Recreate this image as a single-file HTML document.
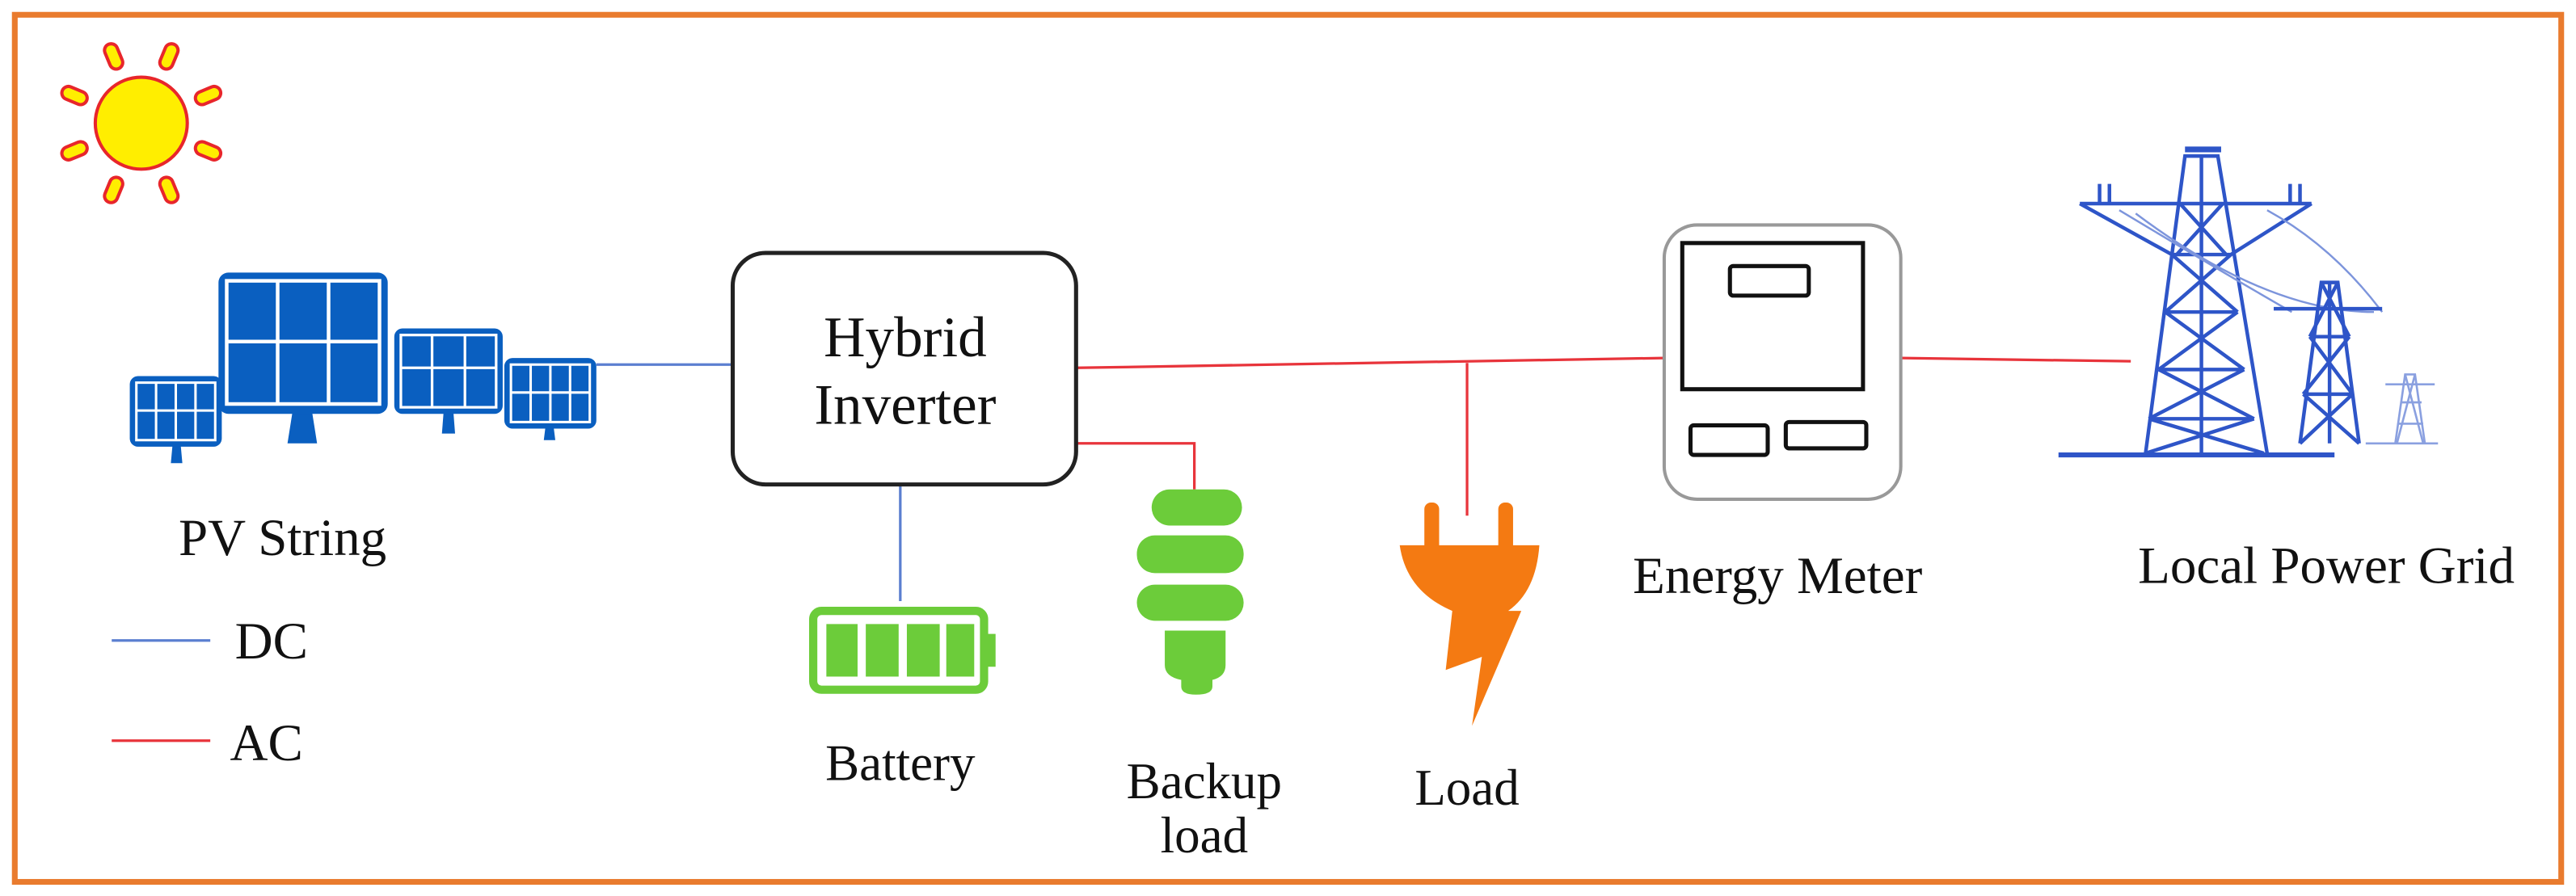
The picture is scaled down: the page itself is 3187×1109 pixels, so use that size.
<!DOCTYPE html>
<html><head><meta charset="utf-8"><style>
html,body{margin:0;padding:0;background:#fff}
svg{display:block}
text{font-family:"Liberation Serif",serif;fill:#111}
</style></head><body>
<svg width="3187" height="1109" viewBox="0 0 1568 545.6" preserveAspectRatio="none" xmlns="http://www.w3.org/2000/svg">
<rect x="0" y="0" width="1568" height="545.6" fill="#fff"/>
<rect x="9" y="9" width="1550" height="528" fill="none" stroke="#e97b2e" stroke-width="3.5"/>
<!-- sun -->
<g transform="translate(86,75)">
<g fill="#ffee00" stroke="#e8262b" stroke-width="2">
<rect x="-4" y="-52" width="8" height="16" rx="4" transform="rotate(22.5)"/>
<rect x="-4" y="-52" width="8" height="16" rx="4" transform="rotate(67.5)"/>
<rect x="-4" y="-52" width="8" height="16" rx="4" transform="rotate(112.5)"/>
<rect x="-4" y="-52" width="8" height="16" rx="4" transform="rotate(157.5)"/>
<rect x="-4" y="-52" width="8" height="16" rx="4" transform="rotate(202.5)"/>
<rect x="-4" y="-52" width="8" height="16" rx="4" transform="rotate(247.5)"/>
<rect x="-4" y="-52" width="8" height="16" rx="4" transform="rotate(292.5)"/>
<rect x="-4" y="-52" width="8" height="16" rx="4" transform="rotate(337.5)"/>
<circle r="28"/>
</g></g>
<!-- solar panels -->
<g fill="#0a5fc0">
<polygon points="178,251 190,251 193,270 175,270"/>
<rect x="133" y="166" width="103" height="86" rx="6"/>
<polygon points="105,271 110,271 111,282 104,282"/>
<rect x="79" y="229" width="56" height="43" rx="5"/>
<polygon points="270,251 276,251 277,264 269,264"/>
<rect x="240" y="200" width="66" height="52" rx="5"/>
<polygon points="332,260 337,260 338,268 331,268"/>
<rect x="307" y="218" width="56" height="43" rx="5"/>
</g>
<g stroke="#fff" stroke-width="2.2" fill="none">
<rect x="138" y="171" width="93" height="75"/>
<line x1="169" y1="171" x2="169" y2="246"/><line x1="200" y1="171" x2="200" y2="246"/><line x1="138" y1="208" x2="231" y2="208"/>
<rect x="83" y="233" width="48" height="35" stroke-width="1.5"/>
<line x1="95" y1="233" x2="95" y2="268" stroke-width="1.5"/><line x1="107" y1="233" x2="107" y2="268" stroke-width="1.5"/><line x1="119" y1="233" x2="119" y2="268" stroke-width="1.5"/><line x1="83" y1="250" x2="131" y2="250" stroke-width="1.5"/>
<rect x="244" y="204" width="58" height="44" stroke-width="1.6"/>
<line x1="263" y1="204" x2="263" y2="248" stroke-width="1.6"/><line x1="283" y1="204" x2="283" y2="248" stroke-width="1.6"/><line x1="244" y1="224" x2="302" y2="224" stroke-width="1.6"/>
<rect x="311" y="222" width="48" height="35" stroke-width="1.5"/>
<line x1="323" y1="222" x2="323" y2="257" stroke-width="1.5"/><line x1="335" y1="222" x2="335" y2="257" stroke-width="1.5"/><line x1="347" y1="222" x2="347" y2="257" stroke-width="1.5"/><line x1="311" y1="239" x2="359" y2="239" stroke-width="1.5"/>
</g>
<!-- lines -->
<g fill="none" stroke-width="1.6">
<line x1="363" y1="222" x2="446" y2="222" stroke="#5b7fd0"/>
<line x1="548" y1="295" x2="548" y2="366" stroke="#5b7fd0"/>
<line x1="655" y1="224" x2="1013" y2="218" stroke="#e8343b"/>
<polyline points="655,270 727,270 727,298" stroke="#e8343b"/>
<line x1="893" y1="221" x2="893" y2="314" stroke="#e8343b"/>
<line x1="1157" y1="218" x2="1297" y2="220" stroke="#e8343b"/>
<line x1="68" y1="390" x2="128" y2="390" stroke="#5b7fd0"/>
<line x1="68" y1="451" x2="128" y2="451" stroke="#e8343b"/>
</g>
<!-- inverter -->
<rect x="446" y="154" width="209" height="141" rx="20" fill="#fff" stroke="#222" stroke-width="2.5"/>
<text x="551" y="217" font-size="35" text-anchor="middle">Hybrid</text>
<text x="551" y="258" font-size="35" text-anchor="middle">Inverter</text>
<!-- battery -->
<rect x="495" y="372" width="104" height="48" rx="5" fill="none" stroke="#6ccc3a" stroke-width="5"/>
<rect x="599" y="386" width="7" height="20" fill="#6ccc3a"/>
<g fill="#6ccc3a">
<rect x="503" y="380" width="19" height="32"/><rect x="527" y="380" width="20" height="32"/><rect x="552" y="380" width="20" height="32"/><rect x="576" y="380" width="17" height="32"/>
</g>
<!-- bulb -->
<g fill="#6ccc3a">
<rect x="701" y="298" width="55" height="22" rx="11"/>
<rect x="692" y="326" width="65" height="23" rx="11"/>
<rect x="692" y="356" width="65" height="22" rx="11"/>
<path d="M709,384 H746 V405 Q746,412 738,414 V418 Q738,423 728,423 Q719,423 719,418 V414 Q709,412 709,405 Z"/>
</g>
<!-- plug -->
<g fill="#f47a12">
<rect x="867" y="306" width="9" height="36" rx="4"/>
<rect x="912" y="306" width="9" height="36" rx="4"/>
<path d="M852,332 H937 Q935,360 918,372 L926,372 L896,442 L902,400 L880,408 L884,372 Q856,360 852,332 Z"/>
</g>
<!-- meter -->
<rect x="1013" y="137" width="144" height="167" rx="20" fill="#fff" stroke="#999" stroke-width="2"/>
<rect x="1024" y="148" width="110" height="89" fill="none" stroke="#111" stroke-width="2.5"/>
<rect x="1053" y="162" width="48" height="18" rx="2" fill="none" stroke="#111" stroke-width="2.5"/>
<rect x="1029" y="259" width="47" height="18" rx="2" fill="none" stroke="#111" stroke-width="2.5"/>
<rect x="1087" y="257" width="49" height="16" rx="2" fill="none" stroke="#111" stroke-width="2.5"/>
<!-- towers -->
<g fill="none" stroke="#2e55c8" stroke-width="2.2">
<line x1="1253" y1="277" x2="1421" y2="277" stroke-width="3"/>
<polyline points="1306,276 1330,95 1350,95 1380,276"/>
<line x1="1340" y1="95" x2="1340" y2="276"/>
<line x1="1330" y1="91" x2="1352" y2="91" stroke-width="3.5"/>
<line x1="1266" y1="124" x2="1407" y2="124"/>
<polyline points="1266,124 1322,155 1358,155 1407,124"/>
<path d="M1327,124 L1355,155 M1353,124 L1325,155 M1322,155 L1362,190 M1358,155 L1318,190 M1318,190 L1366,225 M1362,190 L1314,225 M1314,225 L1372,255 M1366,225 L1308,255 M1308,255 L1378,276 M1372,255 L1306,276"/>
<path d="M1318,190 H1362 M1314,225 H1366 M1308,255 H1372"/>
<path d="M1278,124 V112 M1284,124 V112 M1394,124 V112 M1400,124 V112"/>
<path d="M1290,128 Q1360,170 1395,190 M1300,130 Q1380,190 1445,190 M1380,128 Q1420,150 1450,190" stroke-width="1.2" stroke="#7d95dc"/>
<polyline points="1400,270 1413,172 1423,172 1436,270"/>
<line x1="1384" y1="188" x2="1450" y2="188"/>
<path d="M1413,172 L1430,205 M1423,172 L1406,205 M1406,205 L1432,240 M1430,205 L1402,240 M1402,240 L1436,270 M1432,240 L1400,270 M1406,205 H1430 M1402,240 H1432"/>
<line x1="1418" y1="172" x2="1418" y2="270"/>
<g stroke="#8aa0e0" stroke-width="1.3">
<polyline points="1458,270 1464,228 1470,228 1476,270"/>
<line x1="1452" y1="234" x2="1482" y2="234"/>
<path d="M1461,245 H1474 M1460,258 H1475 M1464,228 L1475,270 M1470,228 L1459,270"/>
<line x1="1440" y1="270" x2="1484" y2="270"/>
</g>
</g>
<!-- labels -->
<text x="172" y="338" font-size="32" text-anchor="middle">PV String</text>
<text x="143" y="401" font-size="32">DC</text>
<text x="140" y="463" font-size="32">AC</text>
<text x="548" y="475" font-size="31" text-anchor="middle">Battery</text>
<text x="733" y="486" font-size="31" text-anchor="middle">Backup</text>
<text x="733" y="519" font-size="31" text-anchor="middle">load</text>
<text x="893" y="490" font-size="31" text-anchor="middle">Load</text>
<text x="1082" y="361" font-size="32" text-anchor="middle">Energy Meter</text>
<text x="1416" y="355" font-size="32" text-anchor="middle">Local Power Grid</text>
</svg>
</body></html>
